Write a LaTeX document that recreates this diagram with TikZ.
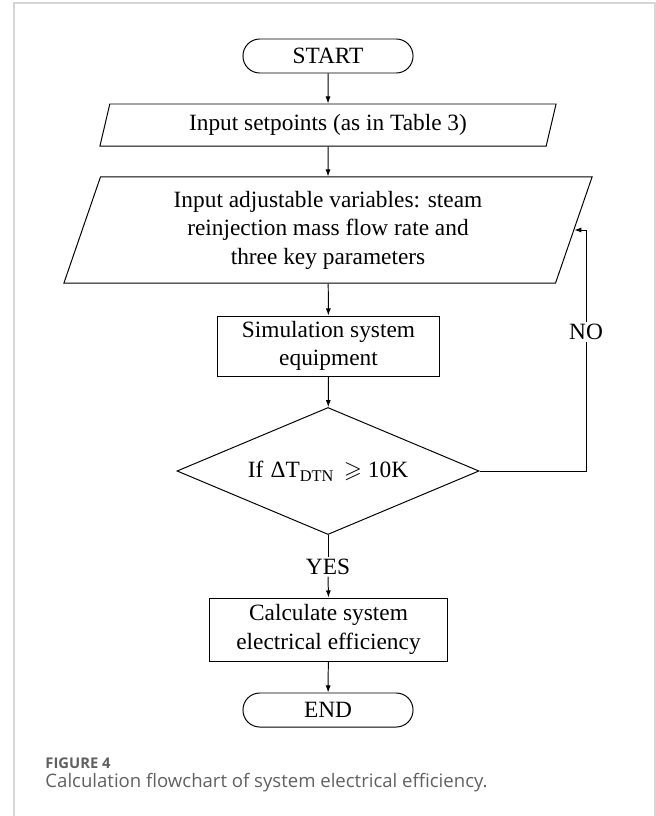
\documentclass[tikz,border=0pt]{standalone}
\usepackage{fontspec}
\usepackage{amssymb}
\setmainfont{Liberation Serif}
\newfontfamily\capfont{Open Sans}
\usetikzlibrary{shapes.geometric,arrows.meta}

\definecolor{framegray}{RGB}{214,214,214}
\definecolor{capgray}{RGB}{96,96,96}

\begin{document}
\begin{tikzpicture}[x=0.025cm,y=-0.025cm,line width=0.7pt,
	font=\fontsize{16.6}{20.3}\selectfont,
	>={Latex[length=5pt,width=3.6pt]},
	termbox/.style={draw, rectangle, rounded corners=0.42cm, minimum width=4.25cm, minimum height=0.85cm, inner sep=0pt},
	iobox/.style={draw, trapezium, trapezium left angle=65, trapezium right angle=115,
		trapezium stretches body, inner sep=0pt, align=center},
	procbox/.style={draw, rectangle, inner sep=0pt, align=center},
	tag/.style={inner sep=1pt}]

	\useasboundingbox (0,0) rectangle (656,816);

	% Frame
	\draw[framegray, line width=1.1pt] (14,816) -- (14,3) -- (655,3) -- (655,816);

	% Blocks
	\node[termbox] (start) at (328,56) {START};
	\node[iobox, minimum width=11.4cm, minimum height=1.05cm] (setp) at (328,125)
		{Input setpoints (as in Table 3)};
	\node[iobox, minimum width=13.2cm, minimum height=2.65cm] (adjv) at (328,230)
		{Input adjustable variables: steam\\reinjection mass flow rate and\\three key parameters};
	\node[procbox, minimum width=5.525cm, minimum height=1.5cm] (simu) at (328.5,346)
		{Simulation system\\equipment};
	\node[draw, diamond, aspect=2.38, inner sep=0pt, minimum width=7.55cm, minimum height=3.175cm] (check) at (328,471)
		{If \kern1pt ΔT\textsubscript{DTN} \,$\geqslant$ 10K};
	\node[procbox, minimum width=5.925cm, minimum height=1.575cm] (calc) at (328.5,629.5)
		{Calculate system\\electrical efficiency};
	\node[termbox] (stop) at (328,710) {END};

	% Labels
	\node[tag] (yes) at (328,567) {YES};
	\node[tag] (no) at (586,332) {NO};

	% Arrows
	\draw[->] (start) -- (setp);
	\draw[->] (setp) -- (adjv);
	\draw[->] (adjv) -- (simu);
	\draw[->] (simu) -- (check);
	\draw (check.south) -- (yes.north);
	\draw[->] (yes.south) -- (calc.north);
	\draw[->] (calc) -- (stop);
	\draw (check.east) -| (no.south);
	\draw[->] (no.north) |- (adjv.east);

	% Caption
	\node[anchor=west, inner sep=0pt, text=capgray, font=\capfont\bfseries\fontsize{10.5}{12}\selectfont] (fignum) at (45,763) {FIGURE 4};
	\node[anchor=west, inner sep=0pt, text=capgray, font=\capfont\fontsize{13.2}{16}\selectfont] (figcap) at (45,783)
		{Calculation flowchart of system electrical efficiency.};
\end{tikzpicture}
\end{document}
